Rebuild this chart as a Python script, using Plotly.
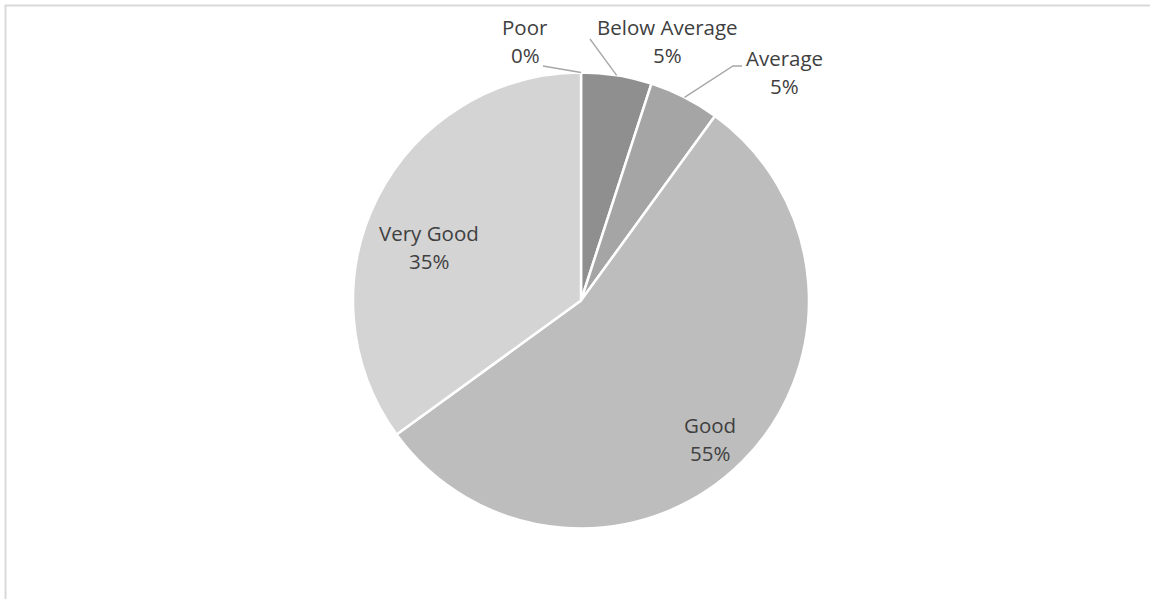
import math
import plotly.graph_objects as go

# Survey rating distribution
categories = ["Poor", "Below Average", "Average", "Good", "Very Good"]
values = [0, 5, 5, 55, 35]
colors = ["#7f7f7f", "#8f8f8f", "#a5a5a5", "#bdbdbd", "#d4d4d4"]

W, H = 1150, 599
CX, CY, R = 581, 300.5, 228          # pie centre and radius in pixels
FONT = dict(family="'Open Sans', Lato, sans-serif", size=20.5, color="#404040")

# label centre positions (pixels) for name line; percent line sits 28px below
label_pos = {
    "Poor": (525, 27),
    "Below Average": (667, 27),
    "Average": (785, 58),
    "Good": (710, 425),
    "Very Good": (429, 233),
}
# where each leader line ends near its label (pixels)
leader_end = {
    "Poor": [(543, 66)],
    "Below Average": [(590, 39)],
    "Average": [(733, 66), (742, 66)],
}


def paper(x, y):
    return x / W, 1 - y / H


total = sum(values)
fig = go.Figure(go.Pie(
    labels=categories,
    values=values,
    sort=False,
    direction="clockwise",
    rotation=0,
    marker=dict(colors=colors, line=dict(color="white", width=2.5)),
    textinfo="none",
    hoverinfo="label+percent",
    showlegend=False,
    domain=dict(x=[(CX - R) / W, (CX + R) / W],
                y=[1 - (CY + R) / H, 1 - (CY - R) / H]),
))

annotations = []
shapes = []
cum = 0
for name, v in zip(categories, values):
    mid = (cum + v / 2) / total * 2 * math.pi
    cum += v
    pct = f"{v / total * 100:.0f}%"
    lx, ly = label_pos[name]
    for text, yy in ((name, ly), (pct, ly + 28)):
        px, py = paper(lx, yy)
        annotations.append(dict(x=px, y=py, xref="paper", yref="paper",
                                text=text, showarrow=False, font=FONT,
                                xanchor="center", yanchor="middle"))
    if name in leader_end:
        ax = CX + R * math.sin(mid)
        ay = CY - R * math.cos(mid)
        pts = [(ax, ay)] + leader_end[name]
        path = "M " + " L ".join(
            f"{paper(x, y)[0]},{paper(x, y)[1]}" for x, y in pts)
        shapes.append(dict(type="path", path=path, xref="paper", yref="paper",
                           line=dict(color="#a6a6a6", width=1.3)))

# chart area frame
shapes.append(dict(type="rect", xref="paper", yref="paper",
                   x0=5.5 / W, y0=1 - 5.5 / H, x1=1.05, y1=-0.05,
                   line=dict(color="#d9d9d9", width=2), layer="below"))

fig.update_layout(
    width=W, height=H,
    margin=dict(l=0, r=0, t=0, b=0),
    paper_bgcolor="white",
    plot_bgcolor="white",
    annotations=annotations,
    shapes=shapes,
)

fig.write_html("out.html")
